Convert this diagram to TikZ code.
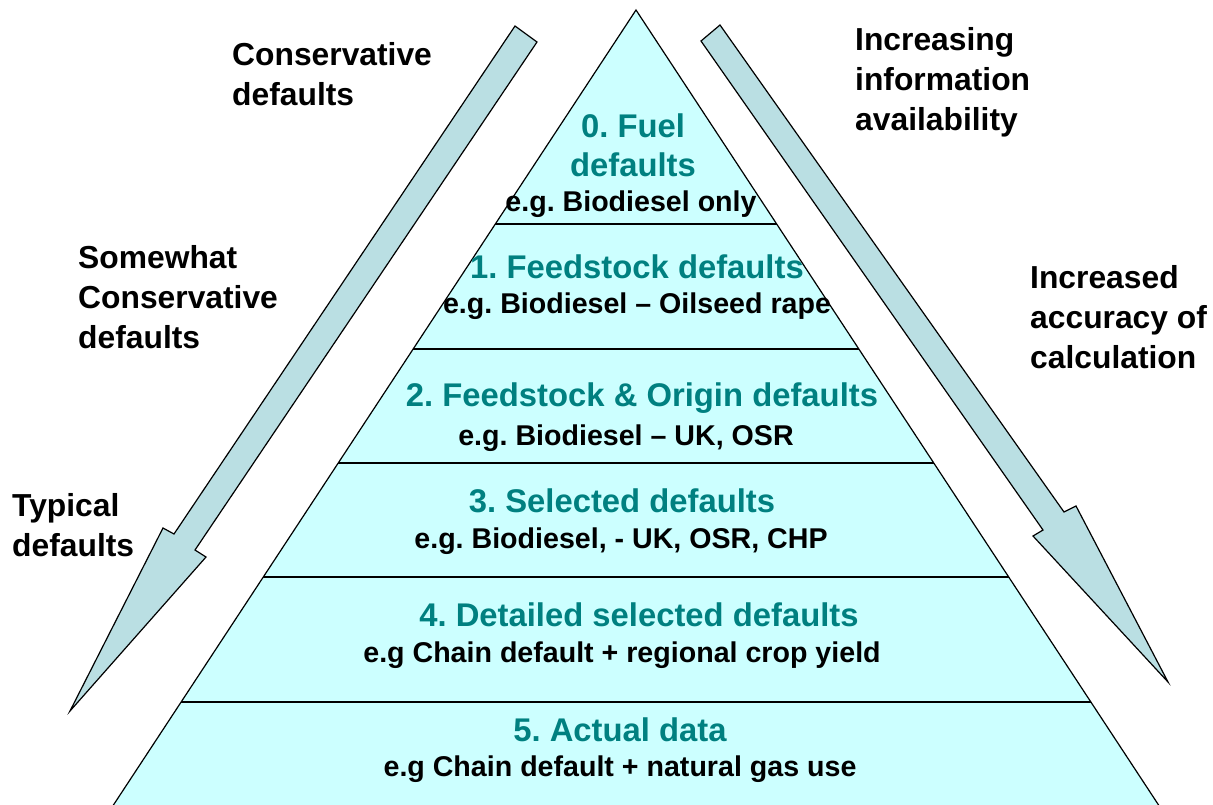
\documentclass[tikz,border=0pt]{standalone}
\usepackage{fontspec}
\setmainfont{Liberation Sans}
\definecolor{layerfill}{HTML}{CCFFFF}
\definecolor{arrowfill}{HTML}{BADFE3}
\definecolor{titleteal}{HTML}{008080}
\frenchspacing

\begin{document}
\begin{tikzpicture}[x=1pt, y=-1pt,
  side/.style={anchor=north west, inner sep=0pt, align=left,
    font=\bfseries\fontsize{31.8}{40}\selectfont},
  level/.style={anchor=base, inner sep=0pt, text=titleteal,
    font=\bfseries\fontsize{32.8}{37}\selectfont},
  example/.style={anchor=base, inner sep=0pt,
    font=\bfseries\fontsize{28.6}{32}\selectfont},
  bigarrow/.style={draw=black, fill=arrowfill, line width=1.2pt, line join=miter}]
\useasboundingbox (0,0) rectangle (1213,804);

% Pyramid
\begin{scope}
  \clip (0,0) rectangle (1213,804);
  \coordinate (apex) at (636,10);
  \coordinate (baseL) at (97,830);
  \coordinate (baseR) at (1175,830);
  \draw[fill=layerfill, line width=1.2pt, line join=miter] (apex) -- (baseL) -- (baseR) -- cycle;
\end{scope}

% Layer boundaries
\foreach \y in {224,349,463,577,702}
  \draw[line width=1.2pt] ({636-0.657*(\y-10)},\y) -- ({636+0.657*(\y-10)},\y);

% Side arrows
\draw[bigarrow] (515,26) -- (537,42) -- (195,550) -- (206,557) -- (70,711)
  -- (163,528) -- (174,534) -- cycle;
\draw[bigarrow] (701,41) -- (720,25) -- (1064,512) -- (1076,506) -- (1168,682)
  -- (1033,536) -- (1043,530) -- cycle;

% Side labels
\node[side] (conservative) at (232,42) {Conservative\\defaults};
\node[side] (somewhat) at (78,245) {Somewhat\\Conservative\\defaults};
\node[side] (typical) at (12,493) {Typical\\defaults};
\node[side] (information) at (855,27) {Increasing\\information\\availability};
\node[side] (accuracy) at (1030,265) {Increased\\accuracy of\\calculation};

% Levels
\node[level] (lvl0a) at (633,137) {0. Fuel};
\node[level] (lvl0b) at (633,176) {defaults};
\node[example] (ex0) at (631,211) {e.g. Biodiesel only};

\node[level] (lvl1) at (637,278) {1. Feedstock defaults};
\node[example] (ex1) at (637,313) {e.g. Biodiesel -- Oilseed rape};

\node[level] (lvl2) at (642,406) {2. Feedstock \& Origin defaults};
\node[example] (ex2) at (626,445) {e.g. Biodiesel -- UK, OSR};

\node[level] (lvl3) at (622,512) {3. Selected defaults};
\node[example] (ex3) at (621,548) {e.g. Biodiesel, - UK, OSR, CHP};

\node[level] (lvl4) at (639,626) {4. Detailed selected defaults};
\node[example] (ex4) at (622,662) {e.g Chain default + regional crop yield};

\node[level] (lvl5) at (620,741) {5. Actual data};
\node[example] (ex5) at (620,776) {e.g Chain default + natural gas use};
\end{tikzpicture}
\end{document}
